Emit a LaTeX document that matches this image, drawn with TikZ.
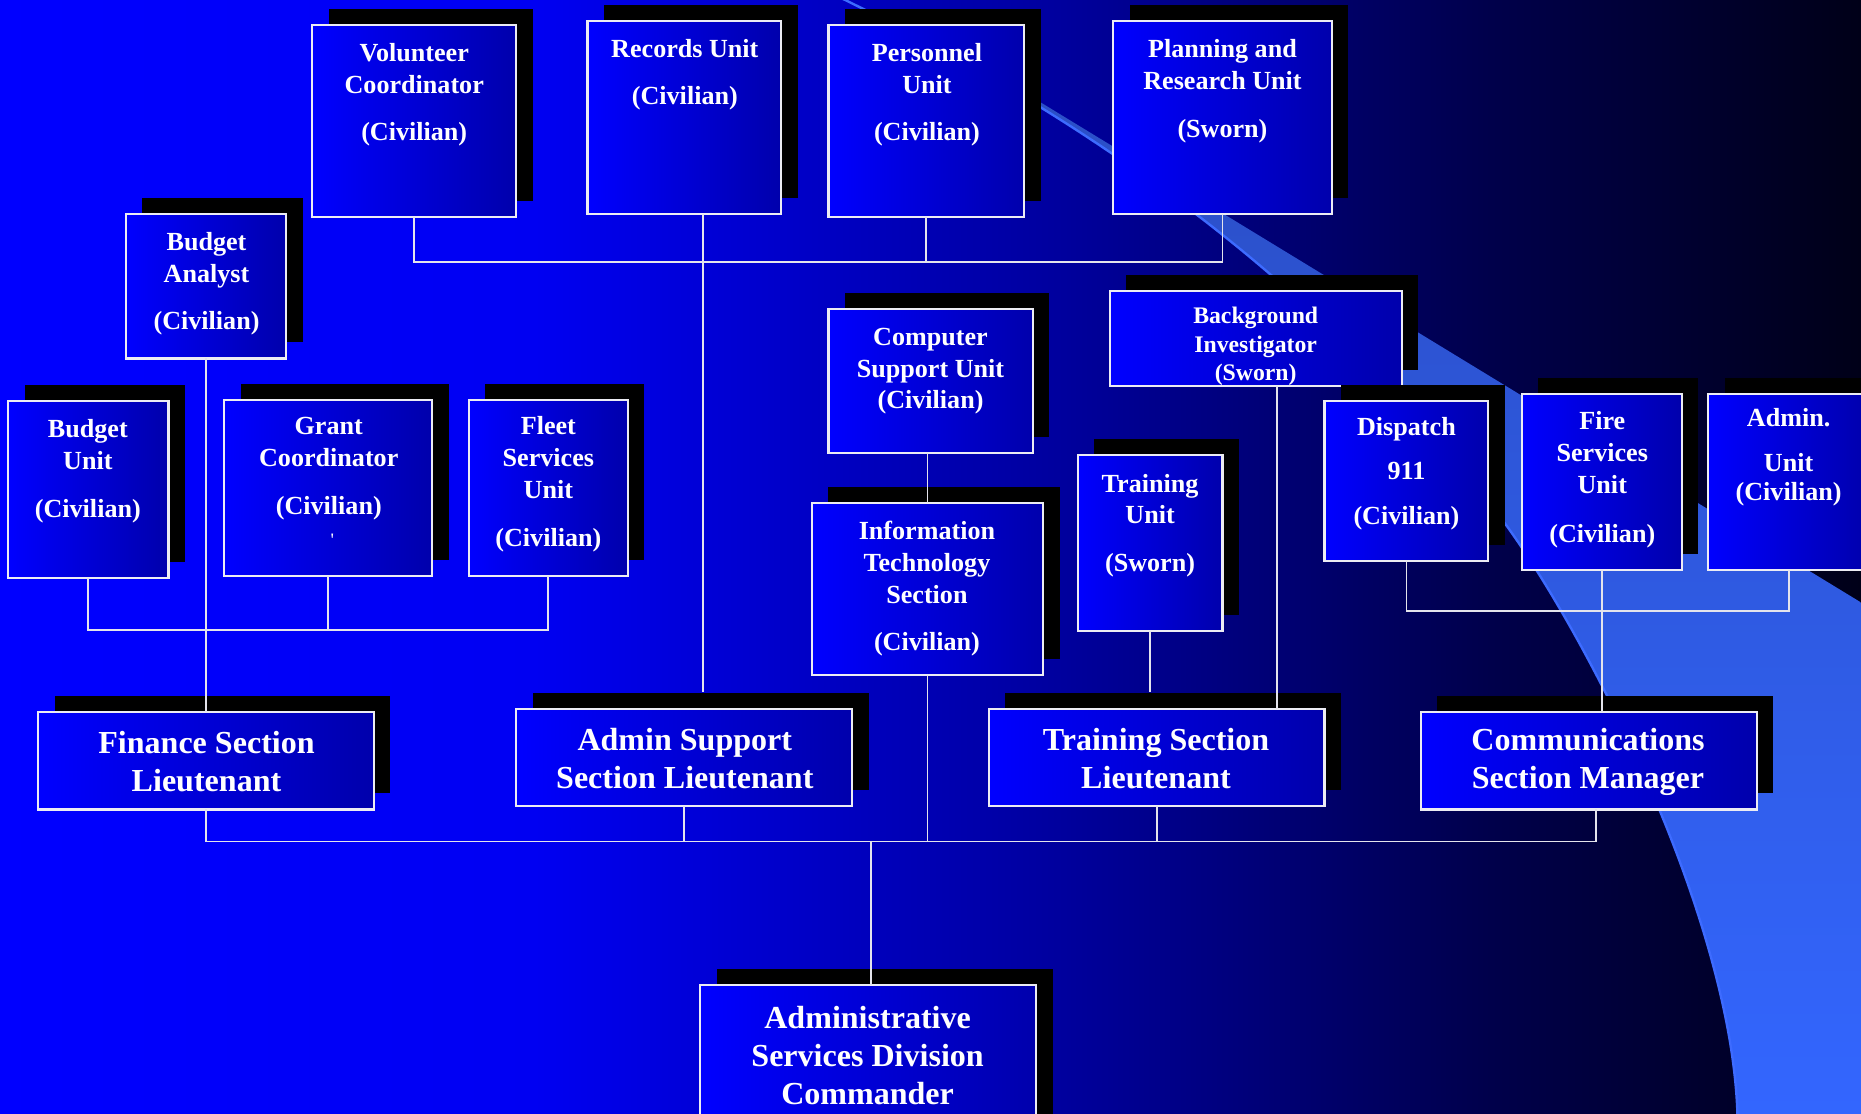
\documentclass[tikz,border=0pt]{standalone}
\usepackage{fontspec}
\setmainfont{Liberation Serif}
\usetikzlibrary{shadows}
\definecolor{bg0}{HTML}{0000FF}
\definecolor{bg1}{HTML}{0000F2}
\definecolor{bg2}{HTML}{00009C}
\definecolor{bg3}{HTML}{00004C}
\definecolor{bg4}{HTML}{000018}
\definecolor{swA}{HTML}{2A4CC0}
\definecolor{swB}{HTML}{3366FF}
\definecolor{swEdge}{HTML}{3D6BFF}
\definecolor{boxL}{HTML}{0000FF}
\definecolor{boxR}{HTML}{0000AC}
\definecolor{boxline}{HTML}{ECECF4}
\definecolor{linec}{HTML}{E4E4EC}
\begin{document}
\begin{tikzpicture}[x=1pt,y=-1pt,
  orgbox/.style={rectangle, anchor=north west, inner sep=0pt, outer sep=0pt,
    draw=boxline, line width=1.8pt, left color=boxL, right color=boxR,
    general shadow={fill=black, shadow xshift=14pt, shadow yshift=13.5pt}},
  txt/.style={text=white, align=center, inner sep=0pt, font=\bfseries\fontsize{22}{27}\selectfont},
  bigtxt/.style={text=white, align=center, inner sep=0pt, font=\bfseries\fontsize{27}{32}\selectfont},
  midtxt/.style={text=white, align=center, inner sep=0pt, font=\bfseries\fontsize{20}{24}\selectfont},
  link/.style={draw=linec, line width=1.6pt}]
\useasboundingbox (0,0) rectangle (1568,938);
% background
\shade[left color=bg0, right color=bg1] (0,0) rectangle (451,938);
\shade[left color=bg1, right color=bg2] (450,0) rectangle (901,938);
\shade[left color=bg2, right color=bg3] (900,0) rectangle (1251,938);
\shade[left color=bg3, right color=bg4] (1250,0) rectangle (1568,938);
% light swoosh
\shade[top color=swA, middle color=swB, bottom color=swB]
  (708,-2) .. controls (760,22) and (820,52) .. (878,87) -- (1590,521) -- (1590,945)
  -- (1464,945) .. controls (1462,780) and (1340,540) .. (1268,441)
  .. controls (1160,300) and (1000,140) .. (708,-2) -- cycle;
\draw[swEdge, line width=2pt]
  (1464,945) .. controls (1462,780) and (1340,540) .. (1268,441)
  .. controls (1160,300) and (1000,140) .. (708,-2);

% boxes
\node[orgbox, minimum width=172pt, minimum height=162pt] (vol) at (263,21) {};
\node[orgbox, minimum width=163pt, minimum height=162pt] (rec) at (495,18) {};
\node[orgbox, minimum width=165pt, minimum height=162pt] (per) at (698,21) {};
\node[orgbox, minimum width=184pt, minimum height=162pt] (pln) at (938,18) {};
\node[orgbox, minimum width=135pt, minimum height=122pt] (ba) at (106,180) {};
\node[orgbox, minimum width=135pt, minimum height=149pt] (bu) at (7,338) {};
\node[orgbox, minimum width=175pt, minimum height=148pt] (gc) at (189,337) {};
\node[orgbox, minimum width=134pt, minimum height=148pt] (fl) at (395,337) {};
\node[orgbox, minimum width=172pt, minimum height=122pt] (cs) at (698,260) {};
\node[orgbox, minimum width=246pt, minimum height=80pt] (bi) at (935,245) {};
\node[orgbox, minimum width=195pt, minimum height=145pt] (it) at (684,424) {};
\node[orgbox, minimum width=122pt, minimum height=149pt] (tu) at (908,383) {};
\node[orgbox, minimum width=138pt, minimum height=135pt] (dp) at (1116,338) {};
\node[orgbox, minimum width=135pt, minimum height=148pt] (fs) at (1282,332) {};
\node[orgbox, minimum width=136pt, minimum height=148pt] (au) at (1439,332) {};
\node[orgbox, minimum width=283pt, minimum height=82pt] (fin) at (32,600) {};
\node[orgbox, minimum width=283pt, minimum height=82pt] (asl) at (435,597) {};
\node[orgbox, minimum width=283pt, minimum height=82pt] (tsl) at (833,597) {};
\node[orgbox, minimum width=283pt, minimum height=82pt] (cm) at (1197,600) {};
\node[orgbox, minimum width=283pt, minimum height=130pt] (cmd) at (590,830) {};

% texts
\node[txt] (tvol) at (349,80) {Volunteer\\Coordinator\\[13pt](Civilian)};
\node[txt] (trec) at (577,63) {Records Unit\\[13pt](Civilian)};
\node[txt] (tper) at (781,80) {Personnel\\Unit\\[13pt](Civilian)};
\node[txt] (tpln) at (1030,77) {Planning and\\Research Unit\\[13pt](Sworn)};
\node[txt] (tba) at (174,239) {Budget\\Analyst\\[13pt](Civilian)};
\node[txt] (tbu) at (74,397) {Budget\\Unit\\[13pt](Civilian)};
\node[txt] (tgc) at (277,395) {Grant\\Coordinator\\[13pt](Civilian)};
\node[text=white, inner sep=0pt, font=\fontsize{16}{16}\selectfont] (tgk) at (280,455) {\textquotesingle};
\node[txt] (tfl) at (462,408) {Fleet\\Services\\Unit\\[13pt](Civilian)};
\node[txt] (tcs) at (784,313) {Computer\\Support Unit\\[-1pt](Civilian)};
\node[midtxt] (tbi) at (1058,292) {Background\\Investigator\\(Sworn)};
\node[txt] (tit) at (781,496) {Information\\Technology\\Section\\[13pt](Civilian)};
\node[txt] (ttu) at (969,443) {Training\\[-1pt]Unit\\[14pt](Sworn)};
\node[txt] (tdp) at (1185,399) {Dispatch\\[10pt]911\\[11pt](Civilian)};
\node[txt] (tfs) at (1350,404) {Fire\\Services\\Unit\\[14pt](Civilian)};
\node[txt] (tau) at (1507,385) {Admin.\\[11pt]Unit\\[-3pt](Civilian)};
\node[bigtxt] (tfin) at (174,642) {Finance Section\\Lieutenant};
\node[bigtxt] (tasl) at (577,639) {Admin Support\\Section Lieutenant};
\node[bigtxt] (ttsl) at (974,639) {Training Section\\Lieutenant};
\node[bigtxt] (tcm) at (1338,642) {Communications\\Section Manager};
\node[bigtxt] (tcmd) at (731,889) {Administrative\\Services Division\\Commander};

% bus levels
\coordinate (busT) at (0,221);
\coordinate (busB) at (0,531);
\coordinate (busD) at (0,515);
\coordinate (busM) at (0,709);
\coordinate (recL) at ([xshift=16pt]rec.south);
\coordinate (aslT) at ([yshift=14pt]asl.north);
\coordinate (biL) at ([xshift=18pt]bi.south);
\coordinate (tslT) at ([yshift=14pt]tsl.north);
\coordinate (cmB) at ([xshift=6pt]cm.south);
\coordinate (cmdT) at ([xshift=2.5pt]cmd.north);

% connectors
\draw[link] (vol.south) -- (vol.south |- busT) -| (pln.south);
\draw[link] (per.south) -- (per.south |- busT);
\draw[link] (recL) -- (recL |- aslT);
\draw[link] (ba.south) -- (ba.south |- fin.north);
\draw[link] (bu.south) -- (bu.south |- busB) -| (fl.south);
\draw[link] (gc.south) -- (gc.south |- busB);
\draw[link] (it.north |- cs.south) -- (it.north);
\draw[link] (it.south) -- (it.south |- busM);
\draw[link] (biL) -- (biL |- tsl.north);
\draw[link] (tu.south) -- (tu.south |- tslT);
\draw[link] (dp.south) -- (dp.south |- busD) -| (au.south);
\draw[link] (fs.south) -- (fs.south |- cm.north);
\draw[link] (fin.south) -- (fin.south |- busM) -| (cmB);
\draw[link] (asl.south) -- (asl.south |- busM);
\draw[link] (tsl.south) -- (tsl.south |- busM);
\draw[link] (cmdT |- busM) -- (cmdT);
\end{tikzpicture}
\end{document}
